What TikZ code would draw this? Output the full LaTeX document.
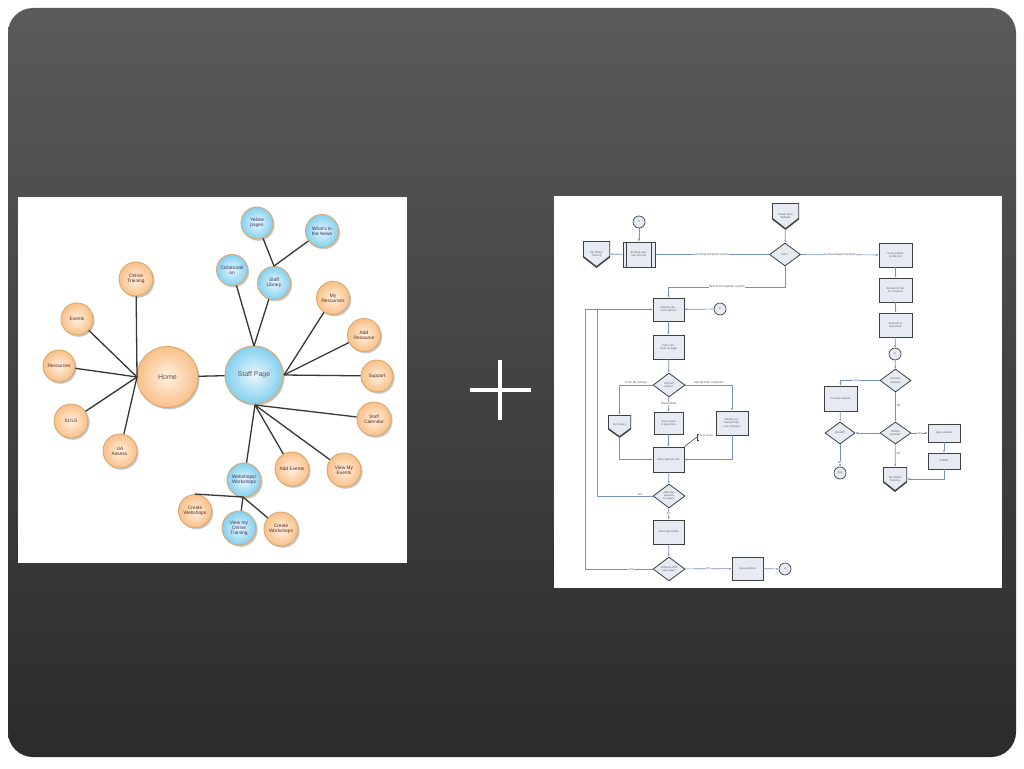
\documentclass[tikz,border=0pt]{standalone}
\usepackage{fontspec}
\setmainfont{Liberation Sans}
\usetikzlibrary{shapes.geometric,shadows,arrows.meta}
\definecolor{bgtop}{HTML}{5A5A5A}
\definecolor{bgbot}{HTML}{2B2B2B}
\definecolor{orIn}{HTML}{FFF1E0}
\definecolor{orOut}{HTML}{F9C089}
\definecolor{blIn}{HTML}{E8F8FE}
\definecolor{blOut}{HTML}{84CFEF}
\definecolor{ringc}{HTML}{DBA86C}
\definecolor{mmline}{HTML}{363636}
\definecolor{ortxt}{HTML}{5A2418}
\definecolor{bltxt}{HTML}{3C2C5C}
\definecolor{bigtxt}{HTML}{6A5050}
\definecolor{fbg}{HTML}{E6EAF2}
\definecolor{fedge}{HTML}{404040}
\definecolor{fline}{HTML}{7393BD}
\definecolor{ftxt}{HTML}{5C5C5C}
\begin{document}
\begin{tikzpicture}[x=1pt,y=-1pt,
  mmnode/.style={circle, draw=ringc, line width=0.9pt, minimum size=#1, inner sep=0pt, align=center,
    drop shadow={shadow xshift=1.6pt, shadow yshift=-1.8pt, fill=black, opacity=0.22}},
  orn/.style={mmnode=#1, inner color=orIn, outer color=orOut, text=ortxt},
  bln/.style={mmnode=#1, inner color=blIn, outer color=blOut, text=bltxt},
  sm/.style={font=\fontsize{4.8}{5.2}\selectfont},
  bigt/.style={font=\fontsize{7}{8}\selectfont, text=bigtxt},
  mml/.style={draw=mmline, line width=1.3pt},
  fl/.style={draw=fline, line width=0.7pt},
  fla/.style={fl, -{Latex[length=2.4pt,width=2pt]}},
  ftext/.style={font=\fontsize{2.7}{3.1}\selectfont, text=ftxt, align=center},
  fbx/.style={rectangle, draw=fedge, fill=fbg, line width=0.8pt, inner sep=0.5pt, ftext, text width=25pt},
  ppr/.style={fbx, text width=22pt, path picture={
      \draw[fedge, line width=0.7pt] ([xshift=3.5pt]path picture bounding box.north west) -- ([xshift=3.5pt]path picture bounding box.south west);
      \draw[fedge, line width=0.7pt] ([xshift=-3.5pt]path picture bounding box.north east) -- ([xshift=-3.5pt]path picture bounding box.south east);}},
  fdm/.style={diamond, draw=fedge, fill=fbg, line width=0.8pt, inner sep=0pt, aspect=1.4, ftext, text width=17pt},
  fci/.style={circle, draw=fedge, fill=fbg, line width=0.7pt, minimum size=12, inner sep=0pt, ftext},
  offp/.style={rectangle, inner sep=0pt, ftext, text width=21pt, text depth=3pt, path picture={
      \draw[fill=fbg, draw=fedge, line width=1.5pt] (path picture bounding box.north west) -- (path picture bounding box.north east) -- ([yshift=-2.5pt]path picture bounding box.east) -- (path picture bounding box.south) -- ([yshift=-2.5pt]path picture bounding box.west) -- cycle;}},
  flab/.style={fill=white, inner sep=0.4pt, font=\fontsize{3}{3.4}\selectfont, text=ftxt},
  flabA/.style={inner sep=0.4pt, above, font=\fontsize{3}{3.4}\selectfont, text=ftxt}
]
\useasboundingbox (0,0) rectangle (1024,768);
\fill[white] (0,0) rectangle (1024,768);
\shade[top color=bgtop, bottom color=bgbot, rounded corners=25pt] (8,8) rectangle (1016,757);
% panels
\fill[white] (18,197) rectangle (407,563);
\fill[white] (554,196) rectangle (1002,588);
% plus sign
\draw[white, line width=4.5pt] (470,390) -- (531,390);
\draw[white, line width=4.5pt] (500,360) -- (500,420);

% ===== mind map =====
\node[orn=61, bigt] (home) at (167.5,377) {Home};
\node[bln=58, bigt] (staff) at (254,375) {Staff Page};
\node[orn=34, sm] (otr) at (136,279) {Online\\Training};
\node[orn=32, sm] (evt) at (77,319) {Events};
\node[orn=32, sm] (res) at (59,366) {Resources};
\node[orn=34, sm] (sols) at (71,421) {SOLS};
\node[orn=34, sm] (ua) at (120,451) {UA\\Assess.};
\node[bln=32, sm] (yp) at (257,223) {Yellow\\pages};
\node[bln=33, sm] (news) at (322,231) {What's in\\the News};
\node[bln=31, sm] (col) at (232,270) {Collaborati\\on};
\node[bln=33, sm] (lib) at (274,283) {Staff\\Library};
\node[orn=33, sm] (myr) at (333,298) {My\\Resources};
\node[orn=33, sm] (addr) at (364,335) {Add\\Resource};
\node[orn=32, sm] (sup) at (377,376) {Support};
\node[orn=34, sm] (cal) at (374,419) {Staff\\Calendar};
\node[orn=34, sm] (adde) at (292,469) {Add Events};
\node[orn=34, sm] (vme) at (344,470) {View My\\Events};
\node[bln=34, sm] (web) at (244,480) {Webshops/\\Workshops};
\node[orn=33, sm] (cwb) at (195,511) {Create\\Webshops};
\node[bln=34, sm] (vot) at (239,528) {View my\\Online\\Training};
\node[orn=34, sm] (cws) at (281,529) {Create\\Workshops};

\coordinate (hh) at (137,377);
\coordinate (st) at (254,346);
\coordinate (sr) at (284,375);
\coordinate (sb) at (255,405);
\coordinate (wh) at (243,497);
\draw[mml] (home) -- (staff);
\draw[mml] (hh) -- (otr);
\draw[mml] (hh) -- (evt);
\draw[mml] (hh) -- (res);
\draw[mml] (hh) -- (sols);
\draw[mml] (hh) -- (ua);
\draw[mml] (st) -- (col);
\draw[mml] (st) -- (lib);
\draw[mml] (lib.north) -- (yp);
\draw[mml] (lib.north) -- (news);
\draw[mml] (sr) -- (myr);
\draw[mml] (sr) -- (addr);
\draw[mml] (sr) -- (sup);
\draw[mml] (sb) -- (cal);
\draw[mml] (sb) -- (vme);
\draw[mml] (sb) -- (adde);
\draw[mml] (sb) -- (web);
\draw[mml] (cwb.north) -- (wh) -- (cws);
\draw[mml] (wh) -- (vot);

% ===== flowchart =====
\node[fci] (fB) at (639,222) {B};
\node[offp, minimum width=27, minimum height=26] (mot1) at (596.5,254) {My Online Training};
\node[ppr, minimum width=32, minimum height=25] (ewp) at (639,254.5) {Existing website process};
\node[offp, minimum width=27, minimum height=26] (cnw) at (785.5,216) {Create New Website};
\node[fdm, minimum width=31, minimum height=23] (use) at (785,254.5) {Use?};
\node[fbx, minimum width=33, minimum height=24] (swp) at (895.5,255) {Scan website profile info};
\node[fbx, minimum width=33, minimum height=24] (bff) at (895.5,290) {Browse for file on computer};
\node[fbx, minimum width=33, minimum height=24] (sfd) at (895.5,325) {Scan file to download};
\node[fci] (fA1) at (895,354) {A};
\node[fdm, minimum width=31, minimum height=23] (pw) at (895.5,380.5) {Preview website?};
\node[fbx, minimum width=33, minimum height=25] (pvb) at (840.5,398.5) {Preview website};
\node[fdm, minimum width=30, minimum height=22] (re) at (840,433) {Re-edit?};
\node[fci] (fexit) at (840,473) {Exit};
\node[fdm, minimum width=31, minimum height=22] (pub) at (895.5,433) {Publish website?};
\node[fbx, minimum width=32, minimum height=18] (sv2) at (944,433) {Save website};
\node[fbx, minimum width=32, minimum height=16] (pbl) at (944,461) {Publish};
\node[offp, minimum width=24, minimum height=24] (mot2) at (895,479) {My Online Training};

\node[fbx, minimum width=31, minimum height=23] (deo) at (668.5,309.5) {Display element options};
\node[fci] (fC) at (720,309) {C};
\node[fbx, minimum width=31, minimum height=24] (pep) at (668.5,347) {Place element on page};
\node[fdm, minimum width=32, minimum height=24] (ffw) at (669,385) {Fill from where?};
\node[offp, minimum width=23, minimum height=22] (ml) at (619.5,426) {My Library};
\node[fbx, minimum width=29, minimum height=22] (csp) at (668.5,423) {Click space to place box};
\node[fbx, minimum width=32, minimum height=24] (dup) at (732,423) {Display upload prompt, user chooses};
\node[fbx, minimum width=31, minimum height=25] (sei) at (668.5,459.5) {Store element info};
\node[fdm, minimum width=32, minimum height=24] (ane) at (669,496) {Add new element to page?};
\node[fbx, minimum width=31, minimum height=24] (apb) at (668.5,532) {Add page break};
\node[fdm, minimum width=32, minimum height=24] (cnp) at (669,569) {Continue with new page?};
\node[fbx, minimum width=31, minimum height=23] (sv1) at (747.5,568.5) {Save website};
\node[fci] (fA2) at (785,569) {A};

% connectors right part
\draw[fla] (fB) -- (ewp);
\draw[fla] (ewp) -- (mot1);
\draw[fla] (use) -- node[flab]{Existing template system} (ewp);
\draw[fla] (cnw) -- (use);
\coordinate (k1) at (785,287);
\draw[fla] (use.south) -- (k1) -| node[flab, pos=0.25]{New from template system} (deo.north);
\draw[fla] (use) -- node[flab]{Load packaged website} (swp);
\draw[fla] (swp) -- (bff);
\draw[fla] (bff) -- (sfd);
\draw[fla] (sfd) -- (fA1);
\draw[fla] (fA1) -- (pw);
\draw[fla] (pw.west) -| node[flab, pos=0.3]{Yes} (pvb.north);
\draw[fla] (pvb) -- (re);
\draw[fla] (re) -- node[flab, pos=0.8]{No} (fexit);
\draw[fla] (pw) -- node[flab, fill=none, right=0.5pt, pos=0.45]{No} (pub);
\draw[fla] (pub) -- (re);
\draw[fla] (pub) -- node[flab]{Yes} (sv2);
\draw[fla] (sv2) -- (pbl);
\draw[fla] (pbl.south) |- (mot2.east);
\draw[fla] (pub) -- node[flab, fill=none, right=0.5pt, pos=0.4]{No} (mot2);

% connectors left part
\draw[fla] (fC) -- (deo);
\draw[fla] (deo) -- (pep);
\draw[fla] (pep) -- (ffw);
\draw[fla] (ffw.west) -| node[flabA, pos=0.25]{From My Library} (ml.north);
\draw[fla] (ffw.east) -| node[flabA, pos=0.25]{Upload from computer} (dup.north);
\draw[fla] (ffw) -- node[flab, pos=0.45]{Placeholder} (csp);
\draw[fla] (csp) -- (sei);
\draw[fla] (ml.south) |- (sei.west);
\draw[fla] (dup.south) |- (sei.east);
\draw[fla] (sei) -- (ane);
\coordinate (l1a) at (597,496);
\coordinate (l1b) at (597,309.5);
\draw[fla] (ane.west) -- node[flabA, pos=0.23]{Yes} (l1a) -- (l1b) -- (deo.west);
\draw[fla] (ane) -- node[flab]{No} (apb);
\draw[fla] (apb) -- (cnp);
\coordinate (l2a) at (585,569);
\coordinate (l2b) at (585,309.5);
\draw[fla] (cnp.west) -- node[flab, pos=0.32]{Yes} (l2a) -- (l2b) -- (deo.west);
\draw[fla] (cnp) -- node[flab]{No} (sv1);
\draw[fla] (sv1) -- (fA2);
% callout
\coordinate (ar) at (697,437);
\draw[fedge, line width=0.6pt] (sei.north east) -- (ar);
\draw[fedge, line width=0.5pt] (699,434) -- (697,434) -- (697,440) -- (699,440);
\node[ftext, inner sep=0pt, anchor=west] (arl) at (699.5,436) {Auto resize};
\end{tikzpicture}
\end{document}
